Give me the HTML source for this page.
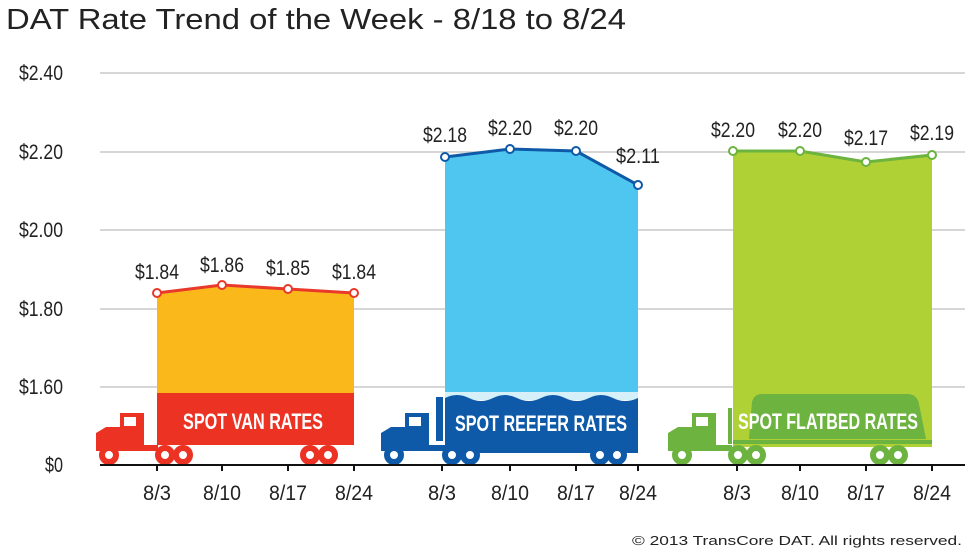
<!DOCTYPE html>
<html><head><meta charset="utf-8"><style>
body{margin:0;background:#fff;}
svg text{font-family:"Liberation Sans",sans-serif;}
</style></head><body>
<svg width="980" height="552" viewBox="0 0 980 552" xmlns="http://www.w3.org/2000/svg">
<text x="6" y="29" font-size="29" fill="#222" textLength="620" lengthAdjust="spacingAndGlyphs">DAT Rate Trend of the Week - 8/18 to 8/24</text>
<g stroke="#c8c8c8" stroke-width="1.5">
<line x1="100" y1="73" x2="965" y2="73"/><line x1="100" y1="152" x2="965" y2="152"/>
<line x1="100" y1="230" x2="965" y2="230"/><line x1="100" y1="309" x2="965" y2="309"/>
<line x1="100" y1="387" x2="965" y2="387"/></g>
<g font-size="21" fill="#222" text-anchor="end">
<text x="63" y="80" textLength="44" lengthAdjust="spacingAndGlyphs">$2.40</text>
<text x="63" y="159" textLength="44" lengthAdjust="spacingAndGlyphs">$2.20</text>
<text x="63" y="237" textLength="44" lengthAdjust="spacingAndGlyphs">$2.00</text>
<text x="63" y="316" textLength="44" lengthAdjust="spacingAndGlyphs">$1.80</text>
<text x="63" y="394" textLength="44" lengthAdjust="spacingAndGlyphs">$1.60</text>
<text x="63" y="472" textLength="18" lengthAdjust="spacingAndGlyphs">$0</text></g>

<!-- VAN -->
<polygon points="157,293 222,285 288,289 354,293 354,393 157,393" fill="#fbb81a"/>
<rect x="157" y="393" width="197" height="52" fill="#ec3223"/>
<polyline points="157,293 222,285 288,289 354,293" fill="none" stroke="#e8392a" stroke-width="3"/>
<g fill="#fff" stroke="#e8392a" stroke-width="2"><circle cx="157" cy="293" r="4"/><circle cx="222" cy="285" r="4"/><circle cx="288" cy="289" r="4"/><circle cx="354" cy="293" r="4"/></g>
<text x="253" y="429" font-size="22" font-weight="bold" fill="#fff" text-anchor="middle" textLength="140" lengthAdjust="spacingAndGlyphs">SPOT VAN RATES</text>
<path d="M120,413 h24 v32 h14 v6 h-62 v-18 l10,-6 h14z" fill="#ec3223"/>
<rect x="124" y="417" width="12" height="9" fill="#fff"/>
<g fill="#fff" stroke="#ec3223" stroke-width="6"><circle cx="109" cy="455" r="7"/><circle cx="165" cy="455" r="7"/><circle cx="183" cy="455" r="7"/><circle cx="310" cy="455" r="7"/><circle cx="328" cy="455" r="7"/></g>

<!-- REEFER -->
<polygon points="445,157 510,149 576,151 638,185 638,398 445,398" fill="#4fc6f0"/>
<rect x="445" y="392" width="193" height="8" fill="#d6f0fa"/>
<path d="M445,398 q12,-6 24,0 t24,0 t24,0 t24,0 t24,0 t24,0 t24,0 t25,0 v55 h-193z" fill="#0f5aa8"/>
<rect x="436" y="397" width="7" height="44" fill="#0f5aa8"/>
<polyline points="445,157 510,149 576,151 638,185" fill="none" stroke="#0f5aa8" stroke-width="3"/>
<g fill="#fff" stroke="#0f5aa8" stroke-width="2"><circle cx="445" cy="157" r="4"/><circle cx="510" cy="149" r="4"/><circle cx="576" cy="151" r="4"/><circle cx="638" cy="185" r="4"/></g>
<text x="541" y="431" font-size="22" font-weight="bold" fill="#fff" text-anchor="middle" textLength="172" lengthAdjust="spacingAndGlyphs">SPOT REEFER RATES</text>
<path d="M405,413 h24 v32 h16 v6 h-64 v-18 l10,-6 h14z" fill="#0f5aa8"/>
<rect x="409" y="417" width="12" height="9" fill="#fff"/>
<g fill="#fff" stroke="#0f5aa8" stroke-width="6"><circle cx="394" cy="455" r="7"/><circle cx="452" cy="455" r="7"/><circle cx="470" cy="455" r="7"/><circle cx="600" cy="455" r="7"/><circle cx="617" cy="455" r="7"/></g>

<!-- FLATBED -->
<polygon points="733,151 800,151 866,162 932,155 932,447 733,447" fill="#afd136"/>
<path d="M752,402 q2,-8 10,-8 h145 q10,0 12,10 l7,35 h-177z" fill="#6cb33f"/>
<rect x="733" y="440" width="199" height="4" fill="#6cb33f"/>
<rect x="728" y="408" width="4" height="36" fill="#6cb33f"/>
<polyline points="733,151 800,151 866,162 932,155" fill="none" stroke="#6cb33f" stroke-width="3"/>
<g fill="#fff" stroke="#6cb33f" stroke-width="2"><circle cx="733" cy="151" r="4"/><circle cx="800" cy="151" r="4"/><circle cx="866" cy="162" r="4"/><circle cx="932" cy="155" r="4"/></g>
<text x="828" y="429" font-size="22" font-weight="bold" fill="#fff" text-anchor="middle" textLength="180" lengthAdjust="spacingAndGlyphs">SPOT FLATBED RATES</text>
<path d="M692,413 h24 v32 h16 v6 h-64 v-18 l10,-6 h14z" fill="#6cb33f"/>
<rect x="696" y="417" width="12" height="9" fill="#fff"/>
<g fill="#fff" stroke="#6cb33f" stroke-width="6"><circle cx="682" cy="455" r="7"/><circle cx="738" cy="455" r="7"/><circle cx="756" cy="455" r="7"/><circle cx="880" cy="455" r="7"/><circle cx="898" cy="455" r="7"/></g>

<!-- value labels -->
<g font-size="21" fill="#222" text-anchor="middle">
<text x="157" y="279" textLength="44" lengthAdjust="spacingAndGlyphs">$1.84</text><text x="222" y="272" textLength="44" lengthAdjust="spacingAndGlyphs">$1.86</text><text x="288" y="275" textLength="44" lengthAdjust="spacingAndGlyphs">$1.85</text><text x="354" y="279" textLength="44" lengthAdjust="spacingAndGlyphs">$1.84</text>
<text x="445" y="142" textLength="44" lengthAdjust="spacingAndGlyphs">$2.18</text><text x="510" y="135" textLength="44" lengthAdjust="spacingAndGlyphs">$2.20</text><text x="576" y="135" textLength="44" lengthAdjust="spacingAndGlyphs">$2.20</text><text x="638" y="163" textLength="44" lengthAdjust="spacingAndGlyphs">$2.11</text>
<text x="733" y="137" textLength="44" lengthAdjust="spacingAndGlyphs">$2.20</text><text x="800" y="137" textLength="44" lengthAdjust="spacingAndGlyphs">$2.20</text><text x="866" y="145" textLength="44" lengthAdjust="spacingAndGlyphs">$2.17</text><text x="932" y="140" textLength="44" lengthAdjust="spacingAndGlyphs">$2.19</text></g>

<!-- axis -->
<line x1="100" y1="465" x2="965" y2="465" stroke="#111" stroke-width="2"/>
<g stroke="#111" stroke-width="2">
<line x1="157" y1="465" x2="157" y2="471"/><line x1="222" y1="465" x2="222" y2="471"/><line x1="288" y1="465" x2="288" y2="471"/><line x1="354" y1="465" x2="354" y2="471"/>
<line x1="442" y1="465" x2="442" y2="471"/><line x1="510" y1="465" x2="510" y2="471"/><line x1="576" y1="465" x2="576" y2="471"/><line x1="638" y1="465" x2="638" y2="471"/>
<line x1="737" y1="465" x2="737" y2="471"/><line x1="800" y1="465" x2="800" y2="471"/><line x1="866" y1="465" x2="866" y2="471"/><line x1="932" y1="465" x2="932" y2="471"/></g>
<g font-size="21" fill="#222" text-anchor="middle">
<text x="157" y="500" textLength="28" lengthAdjust="spacingAndGlyphs">8/3</text><text x="222" y="500" textLength="38" lengthAdjust="spacingAndGlyphs">8/10</text><text x="288" y="500" textLength="38" lengthAdjust="spacingAndGlyphs">8/17</text><text x="354" y="500" textLength="38" lengthAdjust="spacingAndGlyphs">8/24</text>
<text x="442" y="500" textLength="28" lengthAdjust="spacingAndGlyphs">8/3</text><text x="510" y="500" textLength="38" lengthAdjust="spacingAndGlyphs">8/10</text><text x="576" y="500" textLength="38" lengthAdjust="spacingAndGlyphs">8/17</text><text x="638" y="500" textLength="38" lengthAdjust="spacingAndGlyphs">8/24</text>
<text x="737" y="500" textLength="28" lengthAdjust="spacingAndGlyphs">8/3</text><text x="800" y="500" textLength="38" lengthAdjust="spacingAndGlyphs">8/10</text><text x="866" y="500" textLength="38" lengthAdjust="spacingAndGlyphs">8/17</text><text x="932" y="500" textLength="38" lengthAdjust="spacingAndGlyphs">8/24</text></g>
<text x="962" y="545" font-size="13" fill="#222" text-anchor="end" textLength="330" lengthAdjust="spacingAndGlyphs">© 2013 TransCore DAT. All rights reserved.</text>
</svg>
</body></html>
